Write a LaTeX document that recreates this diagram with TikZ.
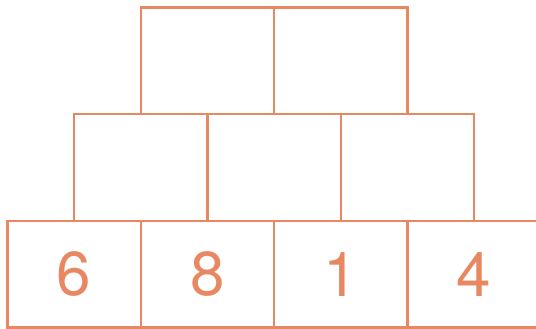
\documentclass[tikz,border=0pt]{standalone}
\usepackage{fontspec}
\setmainfont{TeX Gyre Heros}
\usetikzlibrary{positioning}
\definecolor{brickorange}{RGB}{232,136,98}

\begin{document}
\begin{tikzpicture}[
    x=1pt, y=1pt,
    brick/.style={draw=brickorange, line width=2.3pt, minimum width=133.3pt, minimum height=106.7pt, inner sep=0pt, outer sep=0pt, text=brickorange, font=\fontsize{62}{62}\selectfont},
    node distance=0pt
]
    \useasboundingbox (0,0) rectangle (536,329);
    \clip (0,0) rectangle (536,329);

    % Bottom row
    \node[brick, anchor=south west] (b1) at (7.5,1.5) {6};
    \node[brick, right=of b1] (b2) {8};
    \node[brick, right=of b2] (b3) {1};
    \node[brick, right=of b3] (b4) {4};

    % Middle row
    \node[brick, above=of b1.north east] (m1) {};
    \node[brick, right=of m1] (m2) {};
    \node[brick, right=of m2] (m3) {};

    % Top row
    \node[brick, above=of m1.north east] (t1) {};
    \node[brick, right=of t1] (t2) {};
\end{tikzpicture}
\end{document}
